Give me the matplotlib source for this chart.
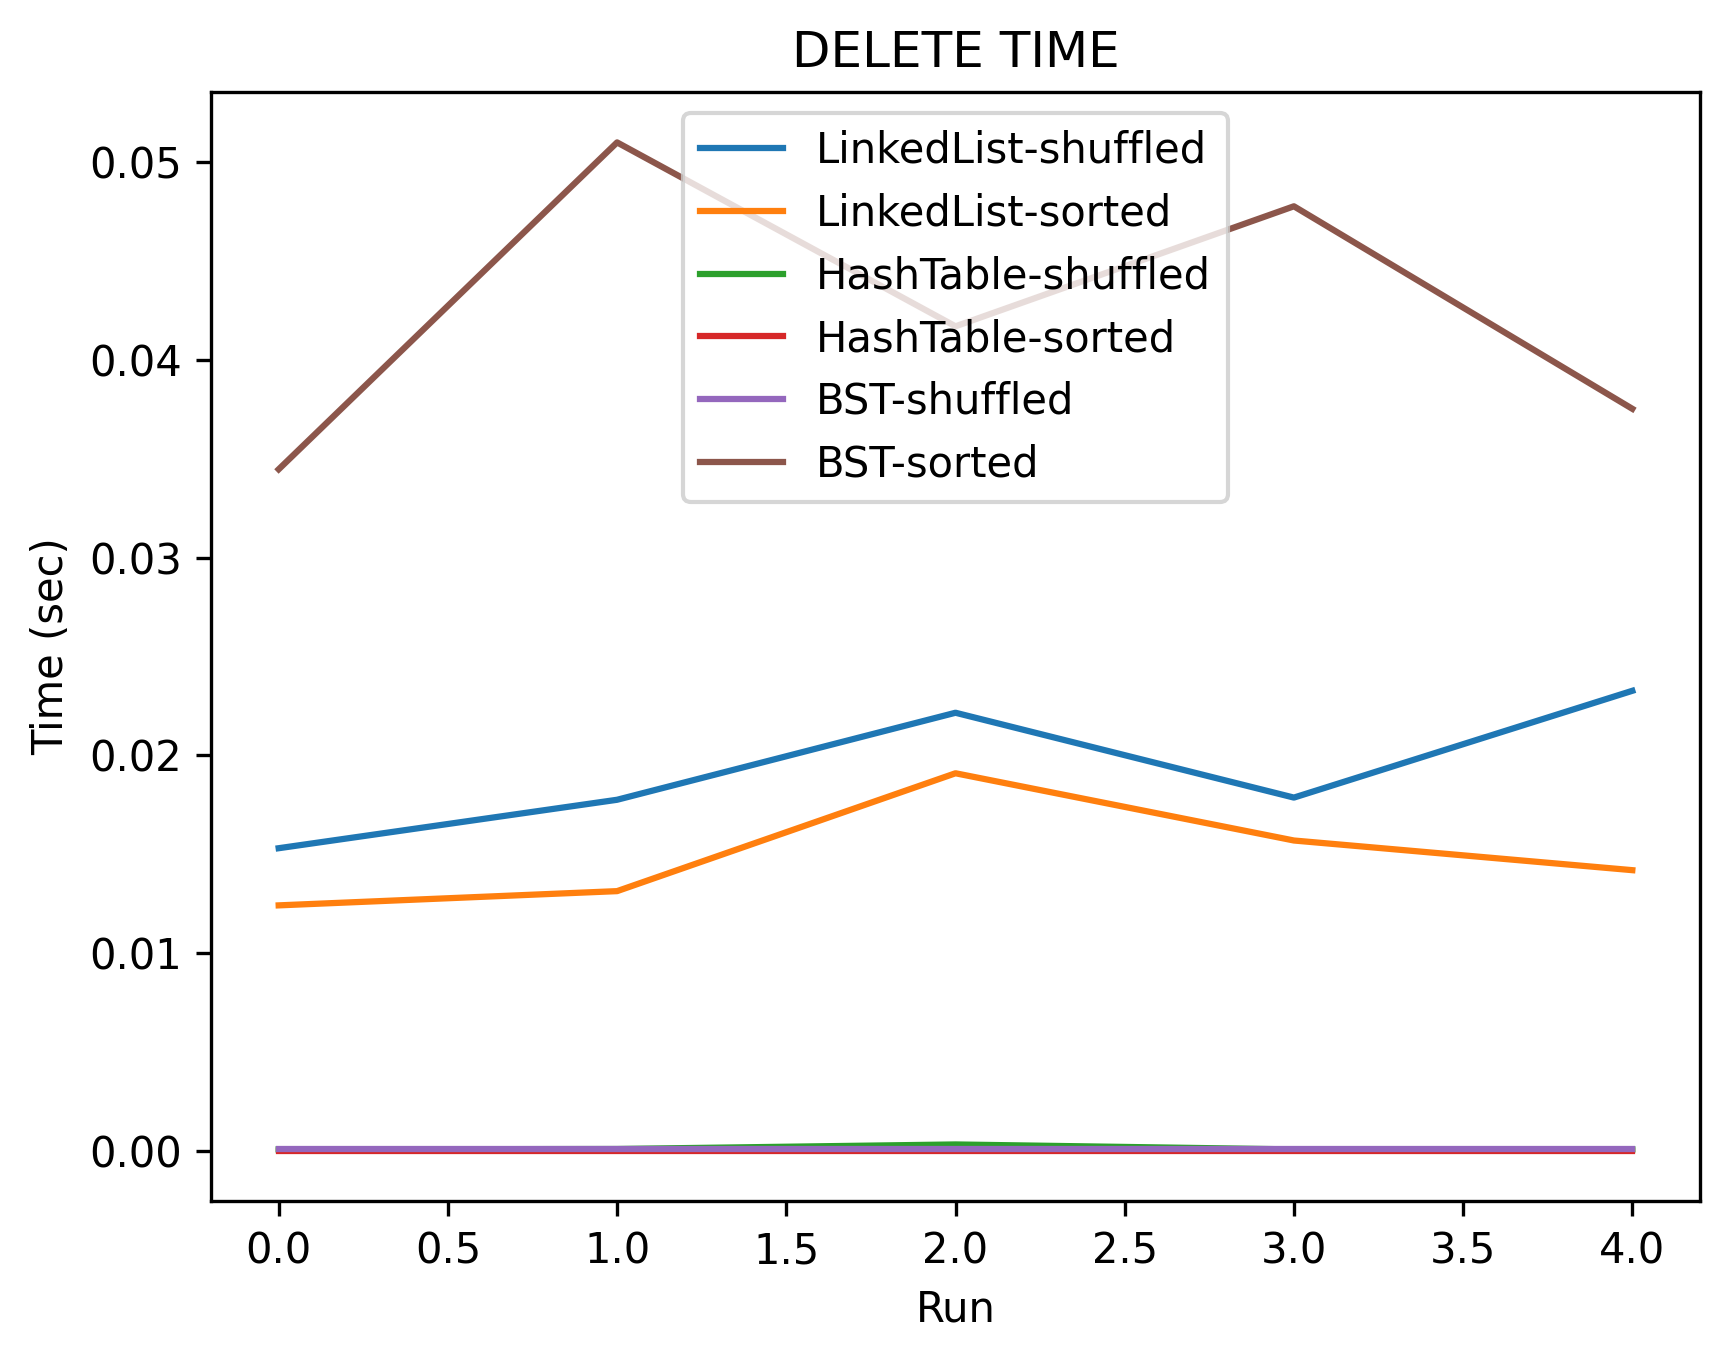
import matplotlib
matplotlib.use("Agg")
import matplotlib.pyplot as plt

runs = [0, 1, 2, 3, 4]
linkedlist_shuffled = [0.01531, 0.01776, 0.02216, 0.01787, 0.02327]
linkedlist_sorted = [0.01242, 0.01314, 0.01910, 0.01570, 0.01420]
hashtable_shuffled = [0.00008, 0.00010, 0.00033, 0.00008, 0.00008]
hashtable_sorted = [0.00002, 0.00002, 0.00002, 0.00002, 0.00002]
bst_shuffled = [0.00012, 0.00012, 0.00012, 0.00012, 0.00012]
bst_sorted = [0.03447, 0.05100, 0.04170, 0.04777, 0.03753]

series = [
    ("LinkedList-shuffled", linkedlist_shuffled),
    ("LinkedList-sorted", linkedlist_sorted),
    ("HashTable-shuffled", hashtable_shuffled),
    ("HashTable-sorted", hashtable_sorted),
    ("BST-shuffled", bst_shuffled),
    ("BST-sorted", bst_sorted),
]

W, H, DPI = 1728, 1361, 300
fig = plt.figure(figsize=(W / DPI, H / DPI), dpi=DPI)
ax = fig.add_axes([211 / W, (H - 1201) / H, 1489 / W, 1109 / H])

for name, vals in series:
    ax.plot(runs, vals, label=name)

ax.set_title("DELETE TIME")
ax.set_xlabel("Run")
ax.set_ylabel("Time (sec)")
ax.legend(loc="upper center")

fig.savefig("out.png", dpi=DPI)
